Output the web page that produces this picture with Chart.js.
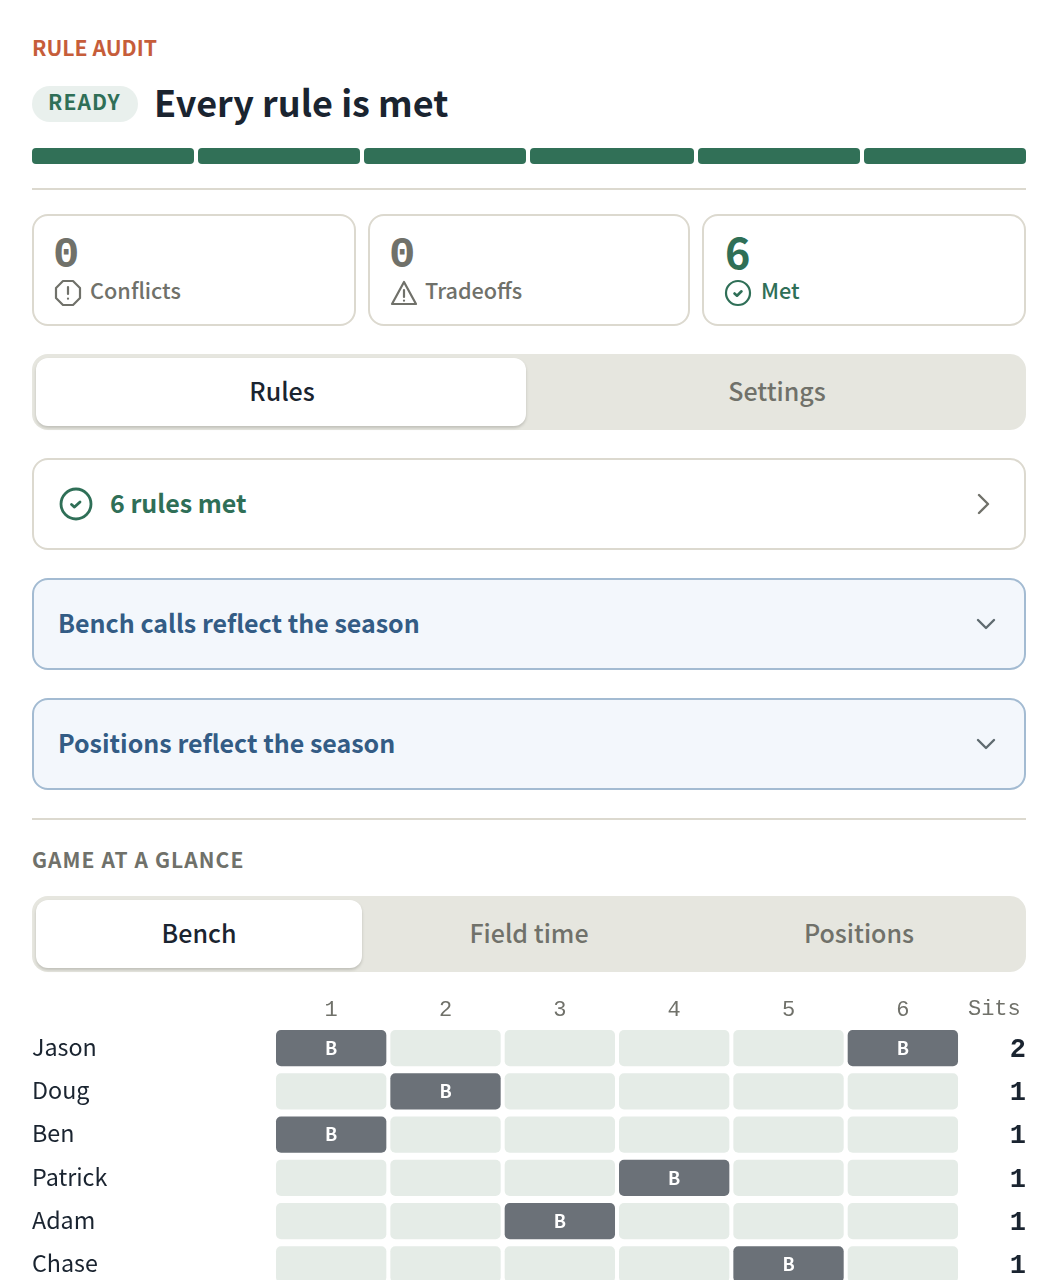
<!DOCTYPE html>
<html>
<head>
<meta charset="utf-8">
<script src="https://cdn.jsdelivr.net/npm/chart.js@4"></script>
<style>
  html, body { margin: 0; padding: 0; background: #fff; height: 1280px; overflow: hidden; }
  body { position: relative; font-family: "Noto Sans CJK SC", "Noto Sans", sans-serif; color: #1a2430; }
  .t { position: absolute; white-space: nowrap; line-height: 40px; height: 40px; }
  .c { transform: translateX(-50%); }
  .box { position: absolute; box-sizing: border-box; }
  .seg { position: absolute; top: 148px; height: 16px; background: #317057; border-radius: 4px; }
  .rule { position: absolute; left: 32px; width: 994px; height: 2px; background: #dcd9cf; }
  .card { border: 2px solid #dcd9cf; border-radius: 16px; background: #fff; }
  .blue { border: 2px solid #a3bbd2; border-radius: 16px; background: #f3f7fc; }
  .tabs { background: #e6e6df; border-radius: 16px; }
  .on { background: #fff; border-radius: 12px; box-shadow: 0 2px 3px rgba(60,60,50,.22); }
  svg { position: absolute; fill: none; stroke-linecap: round; stroke-linejoin: round; }
  #grid { position: absolute; left: 32px; top: 990px; }
</style>
</head>
<body>
<div class="t" style="left:32px;top:27px;font-size:21.2px;font-weight:700;color:#c65d3a">RULE AUDIT</div>
<div class="box" style="left:32px;top:86px;width:106px;height:36px;background:#e9f0ed;border-radius:18px"></div>
<div class="t" style="left:48px;top:81px;font-size:21px;font-weight:700;color:#2f6f57;letter-spacing:1.1px">READY</div>
<div class="t" style="left:154px;top:81px;font-size:36px;font-weight:700">Every rule is met</div>

<div class="seg" style="left:32px;width:162px"></div>
<div class="seg" style="left:198px;width:162px"></div>
<div class="seg" style="left:364px;width:162px"></div>
<div class="seg" style="left:530px;width:164px"></div>
<div class="seg" style="left:698px;width:162px"></div>
<div class="seg" style="left:864px;width:162px"></div>
<div class="rule" style="top:188px"></div>

<div class="box card" style="left:32px;top:214px;width:324px;height:112px"></div>
<div class="box card" style="left:368px;top:214px;width:322px;height:112px"></div>
<div class="box card" style="left:702px;top:214px;width:324px;height:112px"></div>
<div class="t" style="left:53px;top:235px;font-size:44px;font-weight:700;color:#70716a;font-family:'Liberation Mono'">0</div>
<div class="t" style="left:389px;top:235px;font-size:44px;font-weight:700;color:#70716a;font-family:'Liberation Mono'">0</div>
<div class="t" style="left:725px;top:230px;font-size:43px;font-weight:700;color:#2f6f57">6</div>
<svg style="left:54px;top:279px" width="28" height="28" viewBox="0 0 28 28" stroke="#70716a" stroke-width="2.2"><path d="M9 2h10l7 7v10l-7 7H9l-7-7V9z"/><path d="M14 8v7M14 19.5v.2"/></svg>
<svg style="left:390px;top:279px" width="28" height="28" viewBox="0 0 28 28" stroke="#70716a" stroke-width="2.2"><path d="M14 3L26 25H2z"/><path d="M14 11v7M14 21.5v.2"/></svg>
<svg style="left:724px;top:279px" width="28" height="28" viewBox="0 0 28 28" stroke="#2f6f57" stroke-width="2.2"><circle cx="14" cy="14" r="12"/><path d="M10.5 14.5l2.5 2.2 4.5-4.4" stroke-width="2.6"/></svg>
<div class="t" style="left:90px;top:270px;font-size:21.7px;font-weight:500;color:#70716a">Conflicts</div>
<div class="t" style="left:425px;top:270px;font-size:21.7px;font-weight:500;color:#70716a">Tradeoffs</div>
<div class="t" style="left:761px;top:270px;font-size:21.7px;font-weight:500;color:#2f6f57">Met</div>

<div class="box tabs" style="left:32px;top:354px;width:994px;height:76px"></div>
<div class="box on" style="left:36px;top:358px;width:490px;height:68px"></div>
<div class="t c" style="left:282px;top:370px;font-size:25px;font-weight:500">Rules</div>
<div class="t c" style="left:777px;top:370px;font-size:25px;font-weight:500;color:#70716a">Settings</div>

<div class="box card" style="left:32px;top:458px;width:994px;height:92px"></div>
<svg style="left:58px;top:486px" width="36" height="36" viewBox="0 0 36 36" stroke="#2f6f57" stroke-width="2.8"><circle cx="18" cy="18" r="15"/><path d="M13.5 18.5l3 2.6 5.5-5.2"/></svg>
<div class="t" style="left:110px;top:482px;font-size:25px;font-weight:700;color:#2f6f57">6 rules met</div>
<svg style="left:972px;top:490px" width="24" height="28" viewBox="0 0 24 28" stroke="#70716a" stroke-width="2.4"><path d="M7 5l9 9-9 9"/></svg>

<div class="box blue" style="left:32px;top:578px;width:994px;height:92px"></div>
<div class="t" style="left:58px;top:602px;font-size:25px;font-weight:700;color:#335c85">Bench calls reflect the season</div>
<svg style="left:974px;top:612px" width="24" height="24" viewBox="0 0 24 24" stroke="#5f6b70" stroke-width="2.4"><path d="M4 8l8 8 8-8"/></svg>

<div class="box blue" style="left:32px;top:698px;width:994px;height:92px"></div>
<div class="t" style="left:58px;top:722px;font-size:25px;font-weight:700;color:#335c85">Positions reflect the season</div>
<svg style="left:974px;top:732px" width="24" height="24" viewBox="0 0 24 24" stroke="#5f6b70" stroke-width="2.4"><path d="M4 8l8 8 8-8"/></svg>

<div class="rule" style="top:818px"></div>
<div class="t" style="left:32px;top:839px;font-size:21px;font-weight:700;color:#70716a;letter-spacing:1.1px">GAME AT A GLANCE</div>

<div class="box tabs" style="left:32px;top:896px;width:994px;height:76px"></div>
<div class="box on" style="left:36px;top:900px;width:326px;height:68px"></div>
<div class="t c" style="left:199px;top:912px;font-size:25px;font-weight:500">Bench</div>
<div class="t c" style="left:529px;top:912px;font-size:25px;font-weight:500;color:#70716a">Field time</div>
<div class="t c" style="left:859px;top:912px;font-size:25px;font-weight:500;color:#70716a">Positions</div>

<canvas id="grid" width="994" height="310"></canvas>

<script>
const players = ['Jason', 'Doug', 'Ben', 'Patrick', 'Adam', 'Chase'];
const games = ['1', '2', '3', '4', '5', '6'];
const benchedGames = [['1', '6'], ['2'], ['1'], ['4'], ['3'], ['5']];
const sits = [2, 1, 1, 1, 1, 1];
const sitsLabel = 'Sits';
const benchMark = 'B';

const isBenched = (p, g) => benchedGames[p].includes(games[g]);

// labels that have no axis of their own: the B marks and the Sits column
const gridText = {
  id: 'gridText',
  afterDatasetsDraw(chart) {
    const { ctx, scales: { x, y } } = chart;
    ctx.save();
    ctx.textBaseline = 'middle';
    ctx.textAlign = 'center';
    ctx.fillStyle = '#ffffff';
    ctx.font = '700 18px "Noto Sans CJK SC"';
    players.forEach((_, p) => {
      games.forEach((_, g) => {
        if (isBenched(p, g)) ctx.fillText(benchMark, x.getPixelForValue(g + 0.5), y.getPixelForValue(p));
      });
    });
    ctx.textAlign = 'right';
    ctx.fillStyle = '#1a2430';
    ctx.font = '700 27px "Liberation Mono"';
    sits.forEach((s, p) => ctx.fillText(String(s), chart.chartArea.right, y.getPixelForValue(p) + 2));
    ctx.textAlign = 'center';
    ctx.fillStyle = '#70716a';
    ctx.font = '22px "Liberation Mono"';
    ctx.fillText(sitsLabel, x.getPixelForValue(6.3), 19);
    ctx.restore();
  },
};

new Chart(document.getElementById('grid'), {
  type: 'bar',
  plugins: [gridText],
  data: {
    labels: players,
    datasets: games.map((name, g) => ({
      label: name,
      data: players.map(() => [g, g + 1]),
      backgroundColor: players.map((_, p) => (isBenched(p, g) ? '#6b7178' : '#e5ece7')),
      borderColor: '#ffffff',
      borderWidth: 2,
      borderSkipped: false,
      borderRadius: 7,
      grouped: false,
      categoryPercentage: 1,
      barPercentage: 40 / 43.2,
    })),
  },
  options: {
    indexAxis: 'y',
    responsive: false,
    animation: false,
    layout: { padding: 0 },
    plugins: { legend: { display: false }, tooltip: { enabled: false } },
    scales: {
      x: {
        type: 'linear',
        position: 'top',
        min: 0,
        max: 6.577,
        grid: { display: false },
        border: { display: false },
        afterBuildTicks: axis => { axis.ticks = games.map((_, g) => ({ value: g + 0.5 })); },
        afterFit: axis => { axis.height = 36.5; },
        ticks: {
          autoSkip: false,
          maxRotation: 0,
          padding: -5,
          color: '#70716a',
          font: { family: 'Liberation Mono', size: 22 },
          callback: v => games[v - 0.5],
        },
      },
      y: {
        grid: { display: false },
        border: { display: false },
        afterFit: axis => { axis.width = 242; },
        ticks: {
          crossAlign: 'far',
          padding: 0,
          labelOffset: -1,
          color: '#1a2430',
          font: { family: 'Noto Sans CJK SC', size: 23.3 },
        },
      },
    },
  },
});
</script>
</body>
</html>
